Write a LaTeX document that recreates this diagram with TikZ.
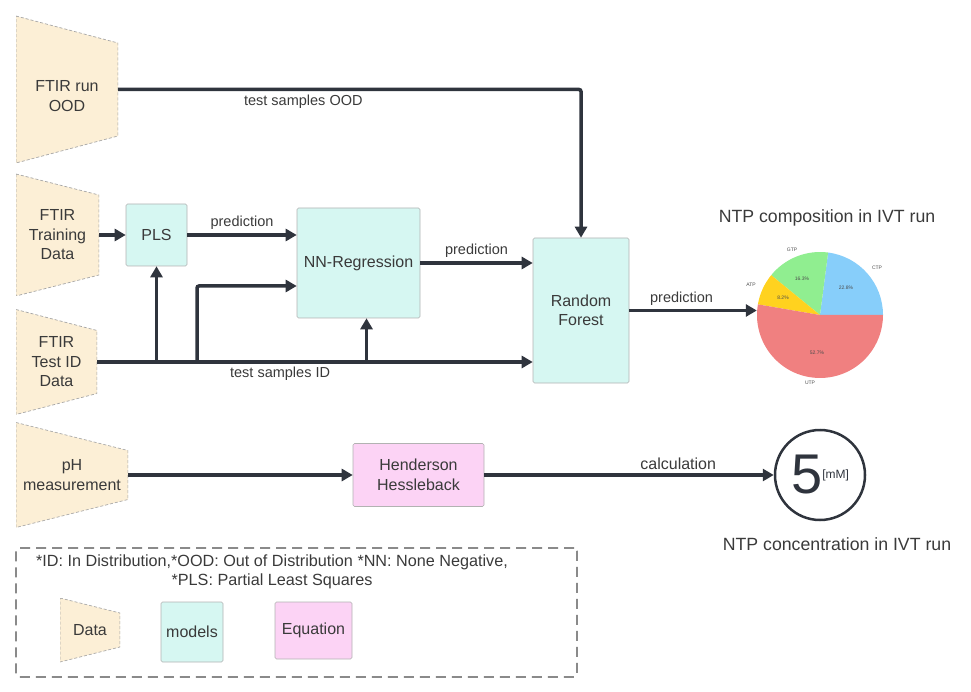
\documentclass[tikz,border=0pt]{standalone}
\usepackage{fontspec}
\setmainfont{Liberation Sans}
\usetikzlibrary{arrows.meta,calc}

\definecolor{datafill}{HTML}{FCEFD6}
\definecolor{modelfill}{HTML}{D6F7F2}
\definecolor{eqfill}{HTML}{FCD3F5}
\definecolor{flowcol}{HTML}{2F343D}
\definecolor{txt}{HTML}{3A3A3A}
\definecolor{ctpcol}{HTML}{87CEFA}
\definecolor{gtpcol}{HTML}{90EE90}
\definecolor{atpcol}{HTML}{FFD21F}
\definecolor{utpcol}{HTML}{F08080}

\tikzset{
  data/.style={inner sep=0pt, text=txt, align=center,
    font=\fontsize{16}{19.5}\selectfont,
    path picture={
      \filldraw[fill=datafill, draw=gray!70, densely dashed, line width=0.7pt]
        (path picture bounding box.north west)
        -- ([yshift=-#1pt]path picture bounding box.north east)
        -- ([yshift=#1pt]path picture bounding box.south east)
        -- (path picture bounding box.south west) -- cycle;
    }},
  model/.style={draw=gray!60, line width=0.6pt, fill=modelfill, rounded corners=1.5pt,
    text=txt, align=center, font=\fontsize{16}{19.5}\selectfont, inner sep=0pt},
  eqbox/.style={model, fill=eqfill},
  flow/.style={draw=flowcol, line width=3.5pt, rounded corners=2pt,
    -{Triangle[length=11pt,width=12pt]}},
  lbl/.style={font=\fontsize{14.5}{19.5}\selectfont, text=txt},
  title/.style={font=\fontsize{17.7}{21}\selectfont, text=txt},
  tiny/.style={font=\fontsize{5}{6}\selectfont, text=black!70},
}

\begin{document}
\begin{tikzpicture}[x=1pt, y=-1pt]
  \useasboundingbox (0,0) rectangle (971,692);

  % data sources
  \node[data=27, minimum width=102pt, minimum height=147pt] (ood) at (67,89.5)
    {\raisebox{-8pt}[\height][\depth]{\begin{tabular}{@{}c@{}}FTIR run\\OOD\end{tabular}}};
  \node[data=21, minimum width=83pt, minimum height=122pt] (train) at (57.5,235) {FTIR\\Training\\Data};
  \node[data=21, minimum width=81pt, minimum height=105pt] (tid) at (56.5,362) {FTIR\\Test ID\\Data};
  \node[data=28, minimum width=112pt, minimum height=105pt] (ph) at (72,475) {pH\\measurement};

  % models
  \node[model, minimum width=61pt, minimum height=62pt] (pls) at (156.5,235) {PLS};
  \node[model, minimum width=123pt, minimum height=110pt] (nn) at (358.5,263) {NN-Regression};
  \node[model, minimum width=96pt, minimum height=145pt] (rf) at (581,310.5) {Random\\Forest};
  \node[eqbox, minimum width=131pt, minimum height=63pt] (hh) at (418.5,475) {Henderson\\Hessleback};

  % outputs
  \node[title] (pietitle) at (827,218) {NTP composition in IVT run};
  \node[circle, minimum size=126pt, inner sep=0pt] (pie) at (820,315) {};
  \begin{scope}[shift={(pie.center)}, x=1pt, y=1pt]
    \fill[ctpcol] (0,0) -- (0:63) arc (0:82.6:63) -- cycle;
    \fill[gtpcol] (0,0) -- (82.6:63) arc (82.6:140.8:63) -- cycle;
    \fill[atpcol] (0,0) -- (140.8:63) arc (140.8:170.3:63) -- cycle;
    \fill[utpcol] (0,0) -- (170.3:63) arc (170.3:360:63) -- cycle;
    \node[tiny] (ctp) at (57,47) {CTP};
    \node[tiny] (gtp) at (-28,65) {GTP};
    \node[tiny] (atp) at (-69,30) {ATP};
    \node[tiny] (utp) at (-10,-68) {UTP};
    \node[tiny] (ctpval) at (26,27) {22.8\%};
    \node[tiny] (gtpval) at (-18,36) {16.3\%};
    \node[tiny] (atpval) at (-37,17) {8.2\%};
    \node[tiny] (utpval) at (-3,-38) {52.7\%};
  \end{scope}

  \node[draw=flowcol, circle, line width=2.5pt, minimum size=90pt, inner sep=0pt, text=flowcol]
    (conc) at (820,475) {{\fontsize{56}{56}\selectfont 5}\raisebox{15pt}{\fontsize{12}{12}\selectfont[mM]}};
  \node[title] (conctitle) at (837,544) {NTP concentration in IVT run};

  % connectors
  \draw[flow] (ood.east) -- (ood.east -| rf.north)
    node[lbl, below, pos=0.4] {test samples OOD} -- (rf.north);
  \draw[flow] (train.east) -- (pls.west);
  \draw[flow] (pls.east) -- (pls.east -| nn.west) node[lbl, above, midway] {prediction};
  \draw[flow] (tid.east) -- (tid.east -| rf.west) node[lbl, below, pos=0.42] {test samples ID};
  \draw[flow] (pls.south |- tid.east) -- (pls.south);
  \coordinate (split) at (197,0);
  \draw[flow] (split |- tid.east) -- (split |- 0,286) -- (nn.west |- 0,286);
  \draw[flow] ([xshift=8pt]nn.south |- tid.east) -- ([xshift=8pt]nn.south);
  \draw[flow] (nn.east) -- (nn.east -| rf.west) node[lbl, above, midway] {prediction};
  \draw[flow] (rf.east) -- (rf.east -| pie.west) node[lbl, above, pos=0.41] {prediction};
  \draw[flow] (ph.east) -- (hh.west);
  \draw[flow] (hh.east) -- (conc.west) node[lbl, above, pos=0.67, font=\fontsize{16}{19}\selectfont] {calculation};

  % legend
  \node[draw=black!70, dash pattern=on 10pt off 6pt, line width=1.2pt, rounded corners=3pt,
    minimum width=561pt, minimum height=129pt] (legend) at (296.5,612.5) {};
  \node[lbl, align=center, font=\fontsize{16.2}{19.5}\selectfont] (notes) at (272,572)
    {*ID: In Distribution,*OOD: Out of Distribution *NN: None Negative,\\*PLS: Partial Least Squares};
  \node[data=15, minimum width=60pt, minimum height=64pt] (keydata) at (90,630) {Data};
  \node[model, minimum width=62pt, minimum height=60pt] (keymodel) at (192,632) {models};
  \node[eqbox, minimum width=77pt, minimum height=57pt] (keyeq) at (313.5,630.5) {Equation};
\end{tikzpicture}
\end{document}
